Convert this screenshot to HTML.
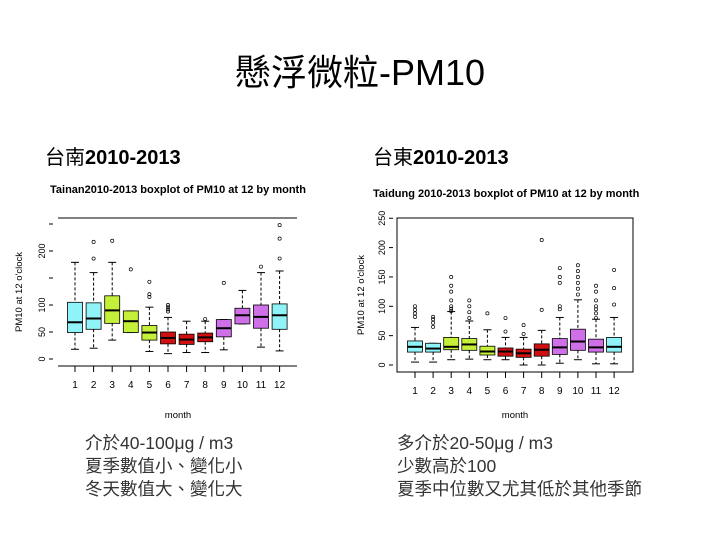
<!DOCTYPE html>
<html><head><meta charset="utf-8">
<style>
body{margin:0;width:720px;height:540px;background:#fff;overflow:hidden;position:relative;font-family:"Liberation Sans","Noto Sans CJK TC",sans-serif;}
.t{position:absolute;white-space:nowrap;}
</style></head><body>
<div class="t" style="left:0;width:720px;text-align:center;top:44px;font-size:36px;color:#000;">懸浮微粒-PM10</div>
<div class="t" style="left:45px;top:141px;font-size:20px;">台南<b>2010-2013</b></div>
<div class="t" style="left:373px;top:141px;font-size:20px;">台東<b>2010-2013</b></div>
<div class="t" style="left:85px;top:432px;font-size:17.5px;line-height:23px;color:#333;">介於40-100μg / m3<br>夏季數值小、變化小<br>冬天數值大、變化大</div>
<div class="t" style="left:397px;top:432px;font-size:17.5px;line-height:23px;color:#333;">多介於20-50μg / m3<br>少數高於100<br>夏季中位數又尤其低於其他季節</div>
<svg id="chart" width="720" height="540" style="position:absolute;left:0;top:0;" xmlns="http://www.w3.org/2000/svg"></svg>
<script>
const months=[1,2,3,4,5,6,7,8,9,10,11,12];
const colors=["#8ff3f8","#8ff3f8","#c5f03a","#c5f03a","#c5f03a","#d01010","#d01010","#d01010","#d070e8","#d070e8","#d070e8","#8ff3f8"];
const tnLow=[18,20,35,49,14,10,12,12,17,65,22,15];
const tnQ1=[49,55,66,49,35,28,27,32,41,65,57,55];
const tnMed=[68,75,90,70,49,39,36,40,57,81,78,81];
const tnQ3=[105,104,117,89,62,50,46,48,73,94,100,102];
const tnHigh=[179,160,179,89,96,77,70,70,73,127,160,163];
const tnOut=[[],[186,217],[219],[166],[115,120,143],[88,92,96,100],[],[74],[141],[],[171],[186,223,248]];
const tdLow=[5,5,9,10,9,9,0,0,3,9,2,2];
const tdQ1=[22,22,26,25,17,15,13,15,18,25,22,22];
const tdMed=[31,28,31,35,23,23,20,26,30,40,30,31];
const tdQ3=[41,37,47,45,32,29,27,36,45,61,44,47];
const tdHigh=[64,37,91,75,60,47,47,59,81,111,78,81];
const tdOut=[[82,88,94,100],[65,72,78,82],[92,96,100,110,125,135,150],[80,90,100,110],[88],[57,80],[53,68],[94,213],[95,100,140,150,165],[120,130,140,150,160,170],[80,88,95,100,110,125,135],[103,131,162]];
const tnTicks=[0,50,100,150,200,250];
const tnTickLabels=["0","50","100","","200",""];
const tdTicks=[0,50,100,150,200,250];
const tdTickLabels=["0","50","100","150","200","250"];
const svg=document.getElementById('chart');
const NS='http://www.w3.org/2000/svg';
function el(tag,attrs,parent){const e=document.createElementNS(NS,tag);for(const k in attrs)e.setAttribute(k,attrs[k]);(parent||svg).appendChild(e);return e;}
function draw(cfg,low,q1,med,q3,high,out,ticks,tickLabels,prefix){
  const y=v=>cfg.y0-(v)*cfg.ky;
  const x=m=>cfg.x1+(m-1)*cfg.dx;
  const g=el('g',{});
  
  
  const t=el('text',{x:cfg.tx,y:cfg.ty,'font-size':11,'font-weight':'bold','font-family':'Liberation Sans, sans-serif'},g);t.textContent=cfg.title;
  
  if(cfg.fullFrame){el('rect',{x:cfg.fl,y:cfg.ft,width:cfg.fr-cfg.fl,height:cfg.fb-cfg.ft,fill:'none',stroke:'#000','stroke-width':1},g);}
  else{el('line',{x1:cfg.fl,x2:cfg.fr,y1:cfg.ft,y2:cfg.ft,stroke:'#000'},g);el('line',{x1:cfg.fl,x2:cfg.fr,y1:cfg.fb,y2:cfg.fb,stroke:'#000'},g);}
  ticks.forEach((v,i)=>{
    el('line',{x1:cfg.ax-4,x2:cfg.ax,y1:y(v),y2:y(v),stroke:'#000'},g);
    if(tickLabels[i]){const l=el('text',{x:cfg.ax-8,y:y(v),'font-size':9,'text-anchor':'middle',transform:`rotate(-90 ${cfg.ax-8} ${y(v)})`,'font-family':'Liberation Sans, sans-serif'},g);l.textContent=tickLabels[i];
    }
  });
  const yl=el('text',{x:cfg.ylx,y:(cfg.ft+cfg.fb)/2,'font-size':9.5,'text-anchor':'middle',transform:`rotate(-90 ${cfg.ylx} ${(cfg.ft+cfg.fb)/2})`,'font-family':'Liberation Sans, sans-serif'},g);yl.textContent=cfg.ylabel;
  
  const xl=el('text',{x:cfg.mx,y:cfg.my,'font-size':9.5,'text-anchor':'middle','font-family':'Liberation Sans, sans-serif'},g);xl.textContent='month';
  
  months.forEach((m,i)=>{
    const cx=x(m),w=cfg.bw;
    el('line',{x1:cx,x2:cx,y1:cfg.fb,y2:cfg.fb+6,stroke:'#000'},g);
    const ml=el('text',{x:cx,y:cfg.fb+22,'font-size':10,'text-anchor':'middle','font-family':'Liberation Sans, sans-serif'},g);ml.textContent=m;
    
    el('line',{x1:cx,x2:cx,y1:y(high[i]),y2:y(q3[i]),stroke:'#000','stroke-dasharray':'3,2'},g);
    el('line',{x1:cx,x2:cx,y1:y(q1[i]),y2:y(low[i]),stroke:'#000','stroke-dasharray':'3,2'},g);
    el('line',{x1:cx-4,x2:cx+4,y1:y(high[i]),y2:y(high[i]),stroke:'#000'},g);
    el('line',{x1:cx-4,x2:cx+4,y1:y(low[i]),y2:y(low[i]),stroke:'#000'},g);
    const b=el('rect',{x:cx-w/2,y:y(q3[i]),width:w,height:y(q1[i])-y(q3[i]),fill:colors[i],stroke:'#000','stroke-width':0.8},g);
    
    el('line',{x1:cx-w/2,x2:cx+w/2,y1:y(med[i]),y2:y(med[i]),stroke:'#000','stroke-width':2},g);
    out[i].forEach(v=>{el('circle',{cx:cx,cy:y(v),r:1.6,fill:'none',stroke:'#000','stroke-width':0.7},g);});
  });
}
draw({y0:359,ky:0.54,x1:75,dx:18.6,bw:15,fl:58,fr:297,ft:218,fb:366,ax:53,ylx:22,mx:178,my:418,tx:50,ty:193,fullFrame:false,title:'Tainan2010-2013 boxplot of PM10 at 12 by month',ylabel:'PM10 at 12 o\'clock'},tnLow,tnQ1,tnMed,tnQ3,tnHigh,tnOut,tnTicks,tnTickLabels,'tainan');
draw({y0:365,ky:0.587,x1:415,dx:18.1,bw:15,fl:397,fr:633,ft:218,fb:372,ax:393,ylx:364,mx:515,my:418,tx:373,ty:197,fullFrame:true,title:'Taidung 2010-2013 boxplot of PM10 at 12 by month',ylabel:'PM10 at 12 o\'clock'},tdLow,tdQ1,tdMed,tdQ3,tdHigh,tdOut,tdTicks,tdTickLabels,'taitung');
</script>
</body></html>
